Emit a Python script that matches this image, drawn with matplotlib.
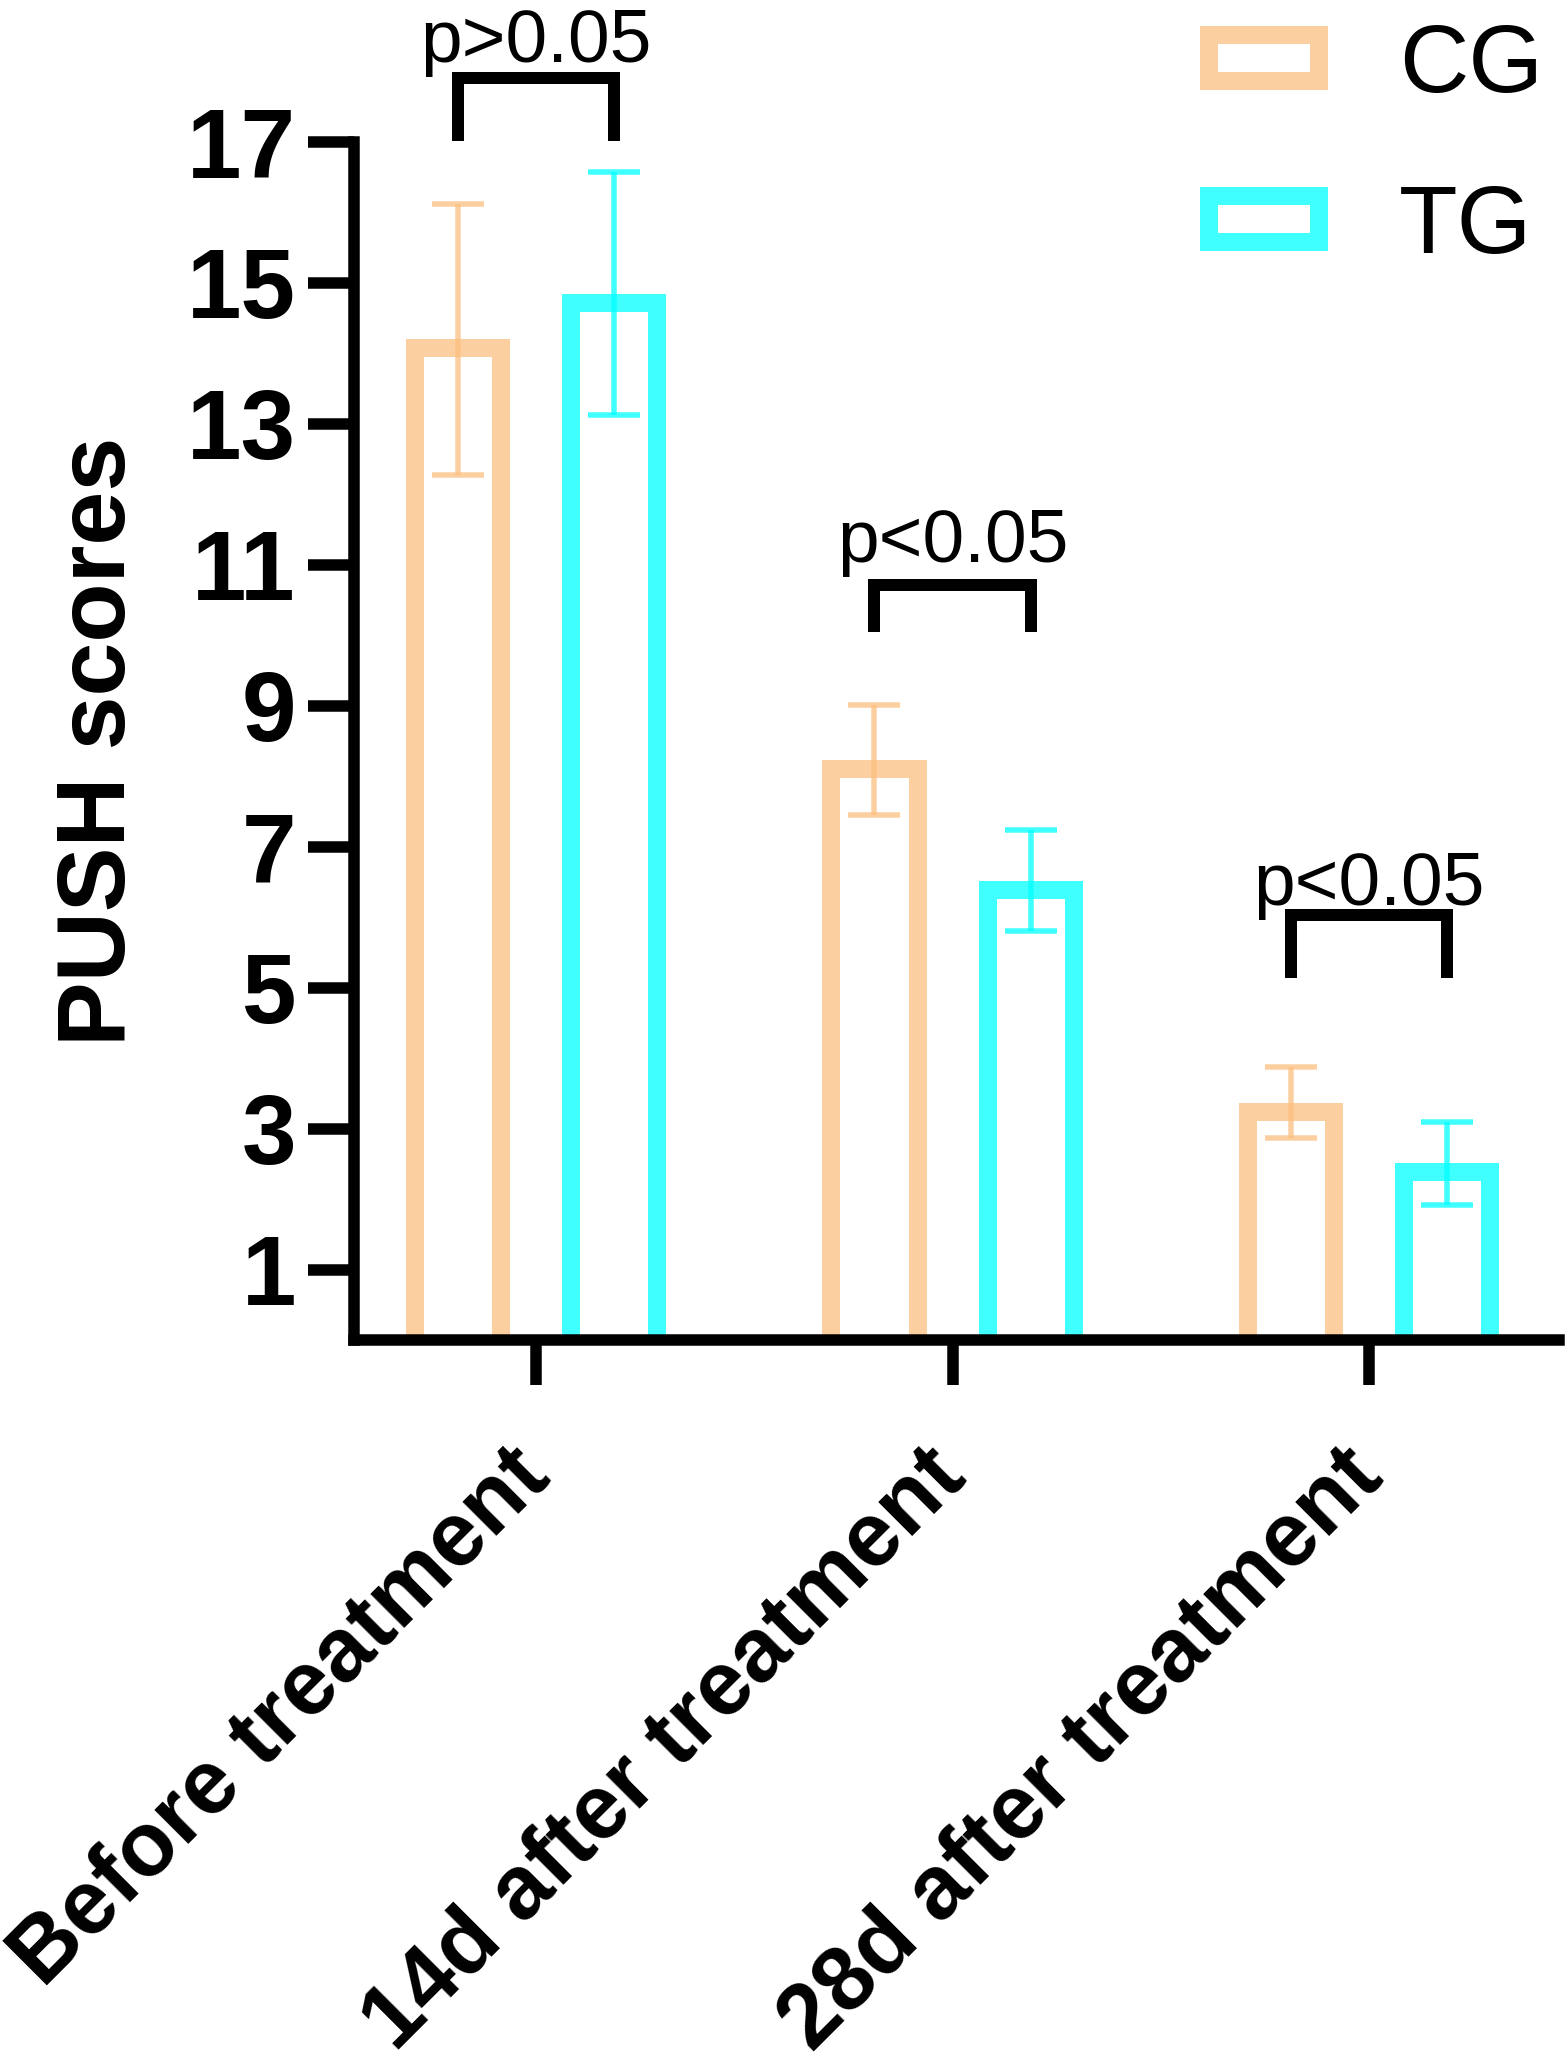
import numpy as np
import matplotlib
matplotlib.use("Agg")
import matplotlib.pyplot as plt
from matplotlib.colors import to_rgba
from matplotlib.patches import Patch
from matplotlib.transforms import ScaledTranslation

plt.rcParams['font.family'] = ['Liberation Sans', 'DejaVu Sans']

# data
timepoints = ['Before treatment', '14d after treatment', '28d after treatment']
groups = ['CG', 'TG']
cg_mean = [14.20, 8.23, 3.37]
cg_sd = [1.92, 0.78, 0.50]
tg_mean = [14.85, 6.52, 2.51]
tg_sd = [1.72, 0.71, 0.59]
p_labels = ['p>0.05', 'p<0.05', 'p<0.05']
bracket_top = [17.91, 10.72, 6.03]
bracket_foot = [17.02, 10.04, 5.14]
p_text_y = [18.14, 11.04, 6.17]
y_ticks = [1, 3, 5, 7, 9, 11, 13, 15, 17]

cg_color = to_rgba('#FCC080', 0.75)
tg_color = to_rgba('#00FFFF', 0.75)

DPI = 72
fig = plt.figure(figsize=(1566 / DPI, 2063 / DPI), dpi=DPI)
# axes placed in pixel units of the 1566 x 2063 canvas
ax = fig.add_axes([354 / 1566, 723 / 2063, (1559 - 354) / 1566, (1340 - 142) / 2063])

x = np.arange(len(timepoints))
width = 0.25
off = 0.1875
edge_px = 18


def outline_bars(xpos, means, color):
    # bars start below the axis so their bottom edge is clipped away,
    # and the stroke is clipped to the inside of each bar (Prism style)
    bars = ax.bar(xpos, np.array(means) + 1, bottom=-1, width=width,
                  facecolor='none', edgecolor=color, linewidth=2 * edge_px,
                  joinstyle='miter', zorder=2)
    for r in bars:
        r.set_clip_path(r.get_path(), r.get_transform())
    return bars


outline_bars(x - off, cg_mean, cg_color)
outline_bars(x + off, tg_mean, tg_color)

ax.errorbar(x - off, cg_mean, yerr=cg_sd, fmt='none', ecolor=cg_color,
            elinewidth=5.5, capsize=26, capthick=5.5, zorder=3)
ax.errorbar(x + off, tg_mean, yerr=tg_sd, fmt='none', ecolor=tg_color,
            elinewidth=5.5, capsize=26, capthick=5.5, zorder=3)

# significance brackets
for i in range(len(timepoints)):
    x0, x1 = x[i] - off, x[i] + off
    ax.plot([x0, x0, x1, x1],
            [bracket_foot[i], bracket_top[i], bracket_top[i], bracket_foot[i]],
            color='black', lw=12, solid_joinstyle='miter',
            solid_capstyle='butt', clip_on=False, zorder=4)
    ax.text(x[i], p_text_y[i], p_labels[i], ha='center', va='baseline',
            fontsize=75, clip_on=False, zorder=5)

ax.set_xlim(-0.437, 2.456)
ax.set_ylim(0, 17)
ax.set_yticks(y_ticks)
ax.set_yticklabels([str(t) for t in y_ticks], fontsize=98, fontweight='bold')
ax.set_xticks(x)
ax.set_xticklabels(timepoints, fontsize=90, fontweight='bold')
nudge = ScaledTranslation(13 / DPI, 0, fig.dpi_scale_trans)
for lbl in ax.get_xticklabels():
    lbl.set_rotation(45)
    lbl.set_ha('right')
    lbl.set_va('center')
    lbl.set_rotation_mode('anchor')
    lbl.set_transform(lbl.get_transform() + nudge)

for s in ['top', 'right']:
    ax.spines[s].set_visible(False)
for s in ['left', 'bottom']:
    ax.spines[s].set_linewidth(11.5)
    ax.spines[s].set_capstyle('projecting')

ax.tick_params(axis='y', length=46, width=11.5, pad=12)
ax.tick_params(axis='x', length=45, width=11.5, pad=78)

ax.set_ylabel('PUSH scores', fontsize=97, fontweight='bold', labelpad=42)

handles = [Patch(facecolor='none', edgecolor=cg_color, linewidth=edge_px),
           Patch(facecolor='none', edgecolor=tg_color, linewidth=edge_px)]
fig.legend(handles, groups, loc='upper left',
           bbox_to_anchor=(1209 / 1566, 1 - 22 / 2063),
           bbox_transform=fig.transFigure, frameon=False, fontsize=96,
           borderpad=0, borderaxespad=0, handlelength=1.146,
           handleheight=0.36, handletextpad=0.83, labelspacing=0.74)

fig.savefig('out.png', dpi=DPI)
